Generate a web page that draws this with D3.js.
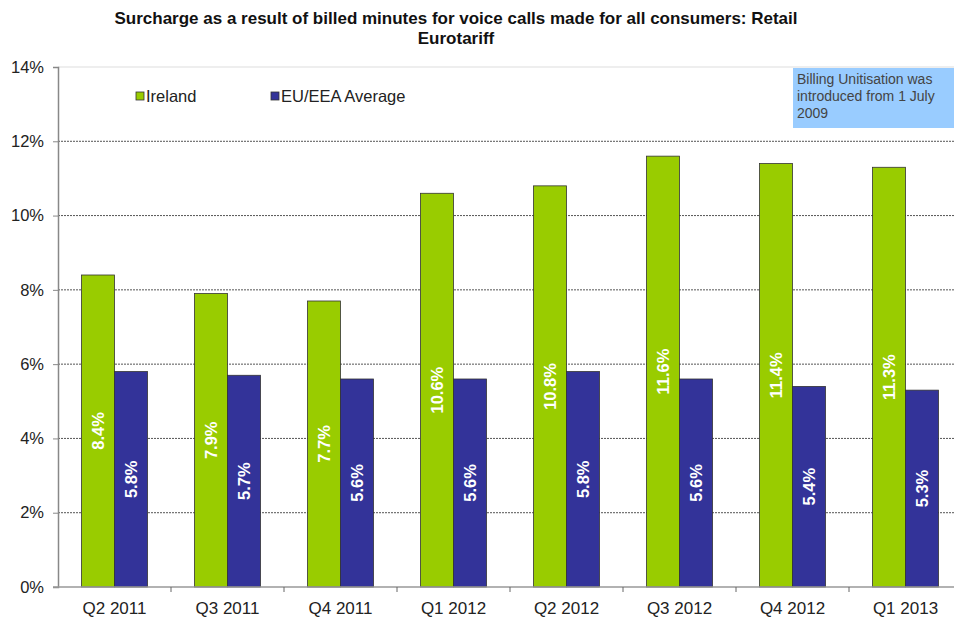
<!DOCTYPE html>
<html>
<head>
<meta charset="utf-8">
<script src="https://cdn.jsdelivr.net/npm/d3@7"></script>
<style>
  body { margin: 0; background: #fff; }
  svg { display: block; font-family: "Liberation Sans", Arial, sans-serif; }
</style>
</head>
<body>
<div id="chart"></div>
<script>
// data
var quarters = ["Q2 2011", "Q3 2011", "Q4 2011", "Q1 2012", "Q2 2012", "Q3 2012", "Q4 2012", "Q1 2013"];
var ireland = [8.4, 7.9, 7.7, 10.6, 10.8, 11.6, 11.4, 11.3];
var euAverage = [5.8, 5.7, 5.6, 5.6, 5.8, 5.6, 5.4, 5.3];
var seriesNames = ["Ireland", "EU/EEA Average"];
var yTicks = [0, 2, 4, 6, 8, 10, 12, 14];

var width = 954, height = 619;
var margin = { top: 67, right: -8, bottom: 32, left: 58 };
var colours = ["#99cc00", "#333399"];

var svg = d3.select("#chart").append("svg")
  .attr("width", width)
  .attr("height", height);

// title
var title = svg.append("text")
  .attr("text-anchor", "middle")
  .attr("font-weight", "bold")
  .attr("font-size", 17)
  .attr("fill", "#111");
title.append("tspan").attr("x", 456).attr("y", 24)
  .text("Surcharge as a result of billed minutes for voice calls made for all consumers: Retail");
title.append("tspan").attr("x", 456).attr("y", 44).text("Eurotariff");

var x = d3.scaleBand()
  .domain(quarters)
  .range([margin.left, width - margin.right]);

var y = d3.scaleLinear()
  .domain([0, 14])
  .range([height - margin.bottom, margin.top]);

var g = svg.append("g");

// gridlines
g.selectAll(".grid")
  .data(yTicks.filter(d => d > 0 && d < 14))
  .enter().append("line")
  .attr("x1", margin.left)
  .attr("x2", width)
  .attr("y1", d => y(d))
  .attr("y2", d => y(d))
  .attr("stroke", "#555")
  .attr("stroke-width", 1)
  .attr("stroke-dasharray", "2,1");

// top border line
g.append("line")
  .attr("x1", margin.left).attr("x2", width)
  .attr("y1", y(14)).attr("y2", y(14))
  .attr("stroke", "#ddd");

// annotation box
var note = svg.append("g");
note.append("rect")
  .attr("x", 793).attr("y", 68)
  .attr("width", 162).attr("height", 60)
  .attr("fill", "#99ccff");
var noteText = note.append("text")
  .attr("font-size", 14)
  .attr("fill", "#444");
["Billing Unitisation was", "introduced from 1 July", "2009"].forEach(function (t, i) {
  noteText.append("tspan").attr("x", 797).attr("y", 84 + i * 17).text(t);
});

// bars
var bw = 33;
var groups = g.selectAll(".q")
  .data(quarters)
  .enter().append("g")
  .attr("transform", d => `translate(${x(d) + x.bandwidth() / 2}, 0)`);

[ireland, euAverage].forEach(function (series, s) {
  groups.append("rect")
    .attr("x", s === 0 ? -bw : 0)
    .attr("y", (d, i) => y(series[i]))
    .attr("width", bw)
    .attr("height", (d, i) => y(0) - y(series[i]))
    .attr("fill", colours[s])
    .attr("stroke", "#333")
    .attr("stroke-width", 0.8);

  groups.append("text")
    .attr("transform", (d, i) => `translate(${s === 0 ? -bw / 2 : bw / 2}, ${(y(series[i]) + y(0)) / 2}) rotate(-90)`)
    .attr("text-anchor", "middle")
    .attr("dy", "0.35em")
    .attr("fill", "#fff")
    .attr("font-weight", "bold")
    .attr("font-size", 16.5)
    .text((d, i) => series[i].toFixed(1) + "%");
});

// y axis
var yAxis = d3.axisLeft(y)
  .tickValues(yTicks)
  .tickSize(5)
  .tickFormat(d => d + "%");
var ya = svg.append("g")
  .attr("transform", `translate(${margin.left},0)`)
  .call(yAxis);
ya.select(".domain").attr("stroke", "#888").attr("stroke-width", 1.5);
ya.selectAll(".tick line").attr("stroke", "#888");
ya.selectAll(".tick text")
  .attr("font-size", 16.5)
  .attr("fill", "#222")
  .attr("font-family", "'Liberation Sans', Arial, sans-serif")
  .attr("x", -14);

// x axis baseline and ticks
svg.append("line")
  .attr("x1", margin.left - 5).attr("x2", width)
  .attr("y1", y(0)).attr("y2", y(0))
  .attr("stroke", "#999").attr("stroke-width", 1.5);
svg.selectAll(".xtick")
  .data(quarters.slice(1))
  .enter().append("line")
  .attr("x1", d => x(d)).attr("x2", d => x(d))
  .attr("y1", y(0)).attr("y2", y(0) + 5)
  .attr("stroke", "#666");
svg.selectAll(".xlabel")
  .data(quarters)
  .enter().append("text")
  .attr("x", d => x(d) + x.bandwidth() / 2)
  .attr("y", y(0) + 27)
  .attr("text-anchor", "middle")
  .attr("font-size", 17)
  .attr("fill", "#222")
  .text(d => d);

// legend
var legend = svg.append("g");
var legendX = [136, 271];
seriesNames.forEach(function (name, i) {
  legend.append("rect")
    .attr("x", legendX[i]).attr("y", 92)
    .attr("width", 8).attr("height", 8)
    .attr("fill", colours[i])
    .attr("stroke", "#333").attr("stroke-width", 0.8);
  legend.append("text")
    .attr("x", legendX[i] + 10).attr("y", 102)
    .attr("font-size", 16.5)
    .attr("fill", "#222")
    .text(name);
});
</script>
</body>
</html>
